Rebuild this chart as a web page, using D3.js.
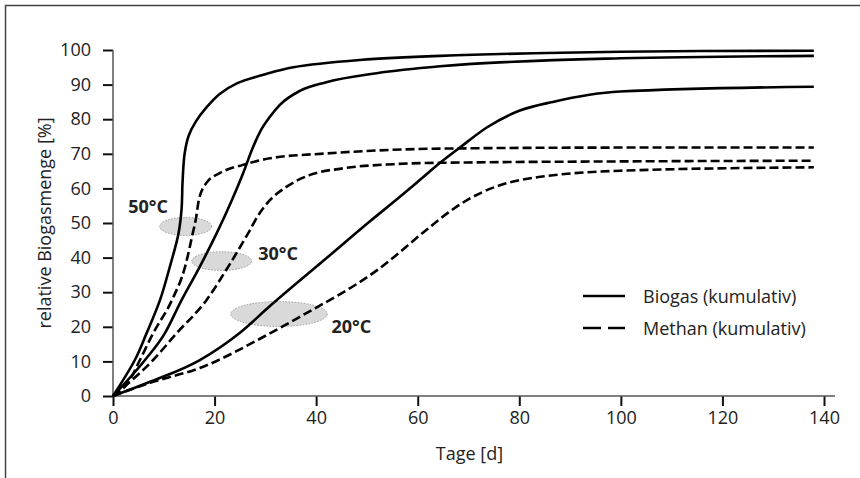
<!DOCTYPE html>
<html>
<head>
<meta charset="utf-8">
<script src="https://cdn.jsdelivr.net/npm/d3@7"></script>
<style>
  body { margin: 0; background: #fff; }
  svg text { font-family: "Open Sans", Lato, sans-serif; fill: #222; }
</style>
</head>
<body>
<div id="chart"></div>
<script>
// days / relative amount [%]
const biogas50 = [[0,0],[4.3,10.4],[6.6,18.1],[9.25,27.7],[11.2,37.4],[12.9,47],[13.5,54],[13.7,62],[14.1,70],[14.9,75.2],[16.3,79.3],[18.4,83.4],[21,87.3],[24.3,90.3],[30,93],[35.5,95],[48.6,97.1],[64.4,98.3],[100,99.5],[138,99.8]];
const biogas30 = [[0,0],[6.3,10.4],[10.2,18.1],[13.5,27.7],[17.1,37.4],[20.4,47],[23.4,56.6],[25.6,64.3],[27.4,71.3],[29,76.5],[30.9,80.7],[32.9,84.2],[36.8,88.2],[42,90.7],[51.9,93.3],[64.4,95.3],[100,97.6],[138,98.3]];
const biogas20 = [[0,0],[7.3,4.1],[17.1,10.4],[25,18.3],[30.9,26],[42,39.8],[50.6,50.5],[56.2,57.2],[60.4,62.4],[64.4,67.4],[68.3,71.8],[73.6,77.6],[80.1,82.5],[86.6,85],[99.8,88],[138,89.4]];
const methan50 = [[0,0],[3.3,4.6],[5.3,10.4],[7.9,18.1],[11.6,27.7],[14.2,37.4],[15.7,47],[16.3,51],[16.9,56.6],[18.4,61.6],[21,64.4],[25.6,66.8],[30.9,68.7],[42,70.1],[64.4,71.5],[100,71.8],[138,71.8]];
const methan30 = [[0,0],[7.9,10.4],[12.5,18.1],[18.4,27.7],[22.7,37.4],[26.6,47],[28.9,52.9],[30.9,56.6],[34.2,60.5],[38.8,63.9],[45.3,65.8],[55.2,67],[64.4,67.4],[100,67.8],[138,68]];
const methan20 = [[0,0],[7.3,3.8],[17.1,8.1],[30.9,18.1],[36.8,22.9],[52.6,37],[61.7,48],[66,53],[70.3,57.1],[75,60.3],[80.1,62.4],[99.8,65.1],[138,66.1]];

const xTicks = [0, 20, 40, 60, 80, 100, 120, 140];
const yTicks = [0, 10, 20, 30, 40, 50, 60, 70, 80, 90, 100];

// temperature labels and grey marker ellipses (in data units)
const tempLabels = [
  { text: "50°C", d: 3, v: 52.9 },
  { text: "30°C", d: 28.6, v: 39.3 },
  { text: "20°C", d: 43, v: 18.2 }
];
const markers = [
  { d: 14.3, v: 49, rd: 5.1, rv: 2.6 },
  { d: 21.4, v: 39, rd: 5.9, rv: 2.7 },
  { d: 32.7, v: 23.7, rd: 9.5, rv: 3.6 }
];

const legendItems = [
  { label: "Biogas (kumulativ)", dash: null },
  { label: "Methan (kumulativ)", dash: "18,7" }
];

const width = 860, height = 478;

const svg = d3.select("#chart").append("svg")
  .attr("width", width)
  .attr("height", height);

// outer frame (only top and left edge visible)
svg.append("rect")
  .attr("x", 5.5).attr("y", 5.5)
  .attr("width", 1000).attr("height", 1000)
  .attr("fill", "none")
  .attr("stroke", "#444")
  .attr("stroke-width", 1.5);

const x = d3.scaleLinear().domain([0, 140]).range([113, 824]);
const y = d3.scaleLinear().domain([0, 100]).range([396, 50]);

/**
 * Marker ellipses
 */
svg.append("g").selectAll("ellipse")
  .data(markers)
  .enter().append("ellipse")
  .attr("cx", d => x(d.d))
  .attr("cy", d => y(d.v))
  .attr("rx", d => x(d.rd) - x(0))
  .attr("ry", d => y(0) - y(d.rv))
  .attr("fill", "#d9d9d9")
  .attr("stroke", "#999")
  .attr("stroke-width", 1)
  .attr("stroke-dasharray", "1.5,1.5");

/**
 * Axes
 */
const xAxis = svg.append("g")
  .attr("transform", `translate(0,${y(0)})`)
  .call(d3.axisBottom(x).tickValues(xTicks).tickSize(10).tickPadding(5));
xAxis.select(".domain").remove();
xAxis.append("line")
  .attr("x1", x(0)).attr("x2", 835)
  .attr("stroke", "#555").attr("stroke-width", 1.5);

const yAxis = svg.append("g")
  .attr("transform", `translate(${x(0)},0)`)
  .call(d3.axisLeft(y).tickValues(yTicks).tickSize(10).tickPadding(12));
yAxis.select(".domain").remove();
yAxis.append("line")
  .attr("y1", y(0)).attr("y2", y(100))
  .attr("stroke", "#555").attr("stroke-width", 1.5);

svg.selectAll(".tick line").attr("stroke", "#111").attr("stroke-width", 2);
svg.selectAll(".tick text")
  .attr("font-size", 18)
  .attr("font-family", "'Open Sans', Lato, sans-serif")
  .attr("fill", "#222");

svg.append("text")
  .attr("x", x(70) + 1)
  .attr("y", 460)
  .attr("text-anchor", "middle")
  .attr("font-size", 18)
  .text("Tage [d]");

svg.append("text")
  .attr("transform", `translate(51,${(y(0) + y(100)) / 2}) rotate(-90)`)
  .attr("text-anchor", "middle")
  .attr("font-size", 18)
  .text("relative Biogasmenge [%]");

/**
 * Curves
 */
const smooth = d3.line()
  .x(d => x(d[0]))
  .y(d => y(d[1]))
  .curve(d3.curveMonotoneX);
// the 50°C biogas curve turns almost vertical, so it needs a curve
// that does not assume x is strictly increasing
const steep = d3.line()
  .x(d => x(d[0]))
  .y(d => y(d[1]))
  .curve(d3.curveCatmullRom.alpha(0.5));

const series = [
  { data: biogas50, dash: null, gen: steep },
  { data: biogas30, dash: null, gen: smooth },
  { data: biogas20, dash: null, gen: smooth },
  { data: methan50, dash: "9,4", gen: smooth },
  { data: methan30, dash: "9,4", gen: smooth },
  { data: methan20, dash: "9,4", gen: smooth }
];

svg.append("g").selectAll("path")
  .data(series)
  .enter().append("path")
  .attr("d", d => d.gen(d.data))
  .attr("fill", "none")
  .attr("stroke", "#000")
  .attr("stroke-width", 2.6)
  .attr("stroke-dasharray", d => d.dash);

/**
 * Temperature labels
 */
svg.append("g").selectAll("text")
  .data(tempLabels)
  .enter().append("text")
  .attr("x", d => x(d.d))
  .attr("y", d => y(d.v))
  .attr("font-size", 18)
  .attr("font-weight", "700")
  .text(d => d.text);

/**
 * Legend
 */
const legend = svg.append("g").attr("transform", "translate(583,296)");
const li = legend.selectAll("g")
  .data(legendItems)
  .enter().append("g")
  .attr("transform", (d, i) => `translate(0,${i * 32})`);
li.append("line")
  .attr("x1", 0).attr("x2", 42)
  .attr("stroke", "#000")
  .attr("stroke-width", 2.6)
  .attr("stroke-dasharray", d => d.dash);
li.append("text")
  .attr("x", 60)
  .attr("y", 6.5)
  .attr("font-size", 18)
  .text(d => d.label);
</script>
</body>
</html>
